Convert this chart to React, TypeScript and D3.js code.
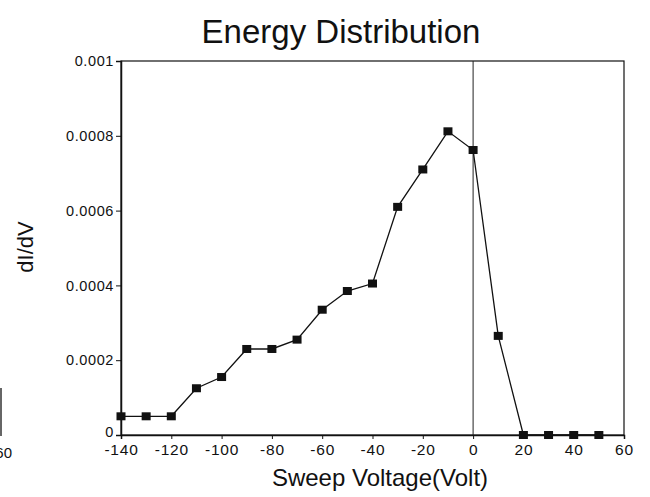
import React, { useEffect, useRef } from 'react';
import * as d3 from 'd3';

const voltage = [-140, -130, -120, -110, -100, -90, -80, -70, -60, -50, -40, -30, -20, -10, 0, 10, 20, 30, 40, 50];
const didv = [
  0.00005, 0.00005, 0.00005, 0.000125, 0.000155, 0.00023, 0.00023, 0.000255, 0.000335, 0.000385,
  0.000405, 0.00061, 0.00071, 0.000812, 0.000762, 0.000265, 0, 0, 0, 0,
];
const xTicks = [-140, -120, -100, -80, -60, -40, -20, 0, 20, 40, 60];
const yTicks = [0, 0.0002, 0.0004, 0.0006, 0.0008, 0.001];

const font = '"Liberation Sans", Arial, Helvetica, sans-serif';

const App = () => {
  const chartContainer = useRef<SVGSVGElement>(null);

  useEffect(() => {
    if (chartContainer.current) {
      drawChart();
    }
  }, []);

  const drawChart = () => {
    const width = 650,
      height = 497,
      left = 121,
      right = 624,
      top = 61,
      bottom = 435;

    const svg = d3.select(chartContainer.current);
    svg.selectAll('*').remove();

    const x = d3.scaleLinear().domain([-140, 60]).range([left, right]);
    const y = d3.scaleLinear().domain([0, 0.001]).range([bottom, top]);

    // frame
    svg
      .append('rect')
      .attr('x', left)
      .attr('y', top)
      .attr('width', right - left)
      .attr('height', bottom - top)
      .attr('fill', 'none')
      .attr('stroke', '#111')
      .attr('stroke-width', 1.2);

    // zero voltage line
    svg
      .append('line')
      .attr('x1', x(0))
      .attr('x2', x(0))
      .attr('y1', top)
      .attr('y2', bottom)
      .attr('stroke', '#222')
      .attr('stroke-width', 1);

    // y axis
    const yAxis = d3
      .axisLeft(y)
      .tickValues(yTicks)
      .tickSize(5)
      .tickPadding(2)
      .tickFormat((d) => (+d === 0 ? '0' : String(+(+d).toFixed(4))));
    const gy = svg.append('g').attr('transform', `translate(${left},0)`).call(yAxis);
    gy.select('.domain').attr('stroke', '#111').attr('stroke-width', 1.5);
    gy.selectAll('.tick line').attr('stroke', '#111');
    gy.selectAll('.tick text')
      .attr('font-family', font)
      .attr('font-size', 14.5)
      .attr('letter-spacing', 0.6)
      .attr('fill', '#111');
    // the "0" sits a little high in the scan
    gy.selectAll('.tick text').filter((d) => +d === 0).attr('dy', '0.1em');

    // x axis (plain hyphens, as in the scan)
    const xAxis = d3
      .axisBottom(x)
      .tickValues(xTicks)
      .tickSize(4)
      .tickPadding(5)
      .tickFormat((d) => String(d));
    const gx = svg.append('g').attr('transform', `translate(0,${bottom})`).call(xAxis);
    gx.select('.domain').attr('stroke', '#111').attr('stroke-width', 1.5);
    gx.selectAll('.tick line').attr('stroke', '#111');
    gx.selectAll('.tick text')
      .attr('font-family', font)
      .attr('font-size', 15.5)
      .attr('letter-spacing', 0.8)
      .attr('fill', '#111');

    // data line and markers
    const pts = voltage.map((v, i) => [v, didv[i]] as [number, number]);
    const line = d3
      .line<[number, number]>()
      .x((d) => x(d[0]))
      .y((d) => y(d[1]));
    svg
      .append('path')
      .attr('d', line(pts))
      .attr('fill', 'none')
      .attr('stroke', '#111')
      .attr('stroke-width', 1.3);
    svg
      .selectAll('rect.pt')
      .data(pts)
      .enter()
      .append('rect')
      .attr('class', 'pt')
      .attr('x', (d) => x(d[0]) - 4.5)
      .attr('y', (d) => y(d[1]) - 4)
      .attr('width', 9)
      .attr('height', 8)
      .attr('fill', '#111');

    // titles
    svg
      .append('text')
      .attr('x', 341)
      .attr('y', 43)
      .attr('text-anchor', 'middle')
      .attr('font-family', font)
      .attr('font-size', 33)
      .attr('fill', '#111')
      .text('Energy Distribution');
    svg
      .append('text')
      .attr('x', 380)
      .attr('y', 486)
      .attr('text-anchor', 'middle')
      .attr('font-family', font)
      .attr('font-size', 24)
      .attr('fill', '#111')
      .text('Sweep Voltage(Volt)');
    svg
      .append('text')
      .attr('transform', 'translate(33,247) rotate(-90)')
      .attr('text-anchor', 'middle')
      .attr('font-family', font)
      .attr('font-size', 22)
      .attr('fill', '#111')
      .text('dI/dV');

    // edge of the neighbouring scanned chart
    svg.append('line').attr('x1', 1).attr('x2', 1).attr('y1', 388).attr('y2', 436).attr('stroke', '#333').attr('stroke-width', 1.5);
    svg
      .append('text')
      .attr('x', 12)
      .attr('y', 458)
      .attr('text-anchor', 'end')
      .attr('font-family', font)
      .attr('font-size', 15)
      .attr('fill', '#111')
      .text('60');

    svg.attr('width', width).attr('height', height);
  };

  return (
    <svg
      ref={chartContainer}
      width={650}
      height={497}
      style={{ position: 'absolute', left: 0, top: 0, background: 'white' }}
    />
  );
};

export default App;
